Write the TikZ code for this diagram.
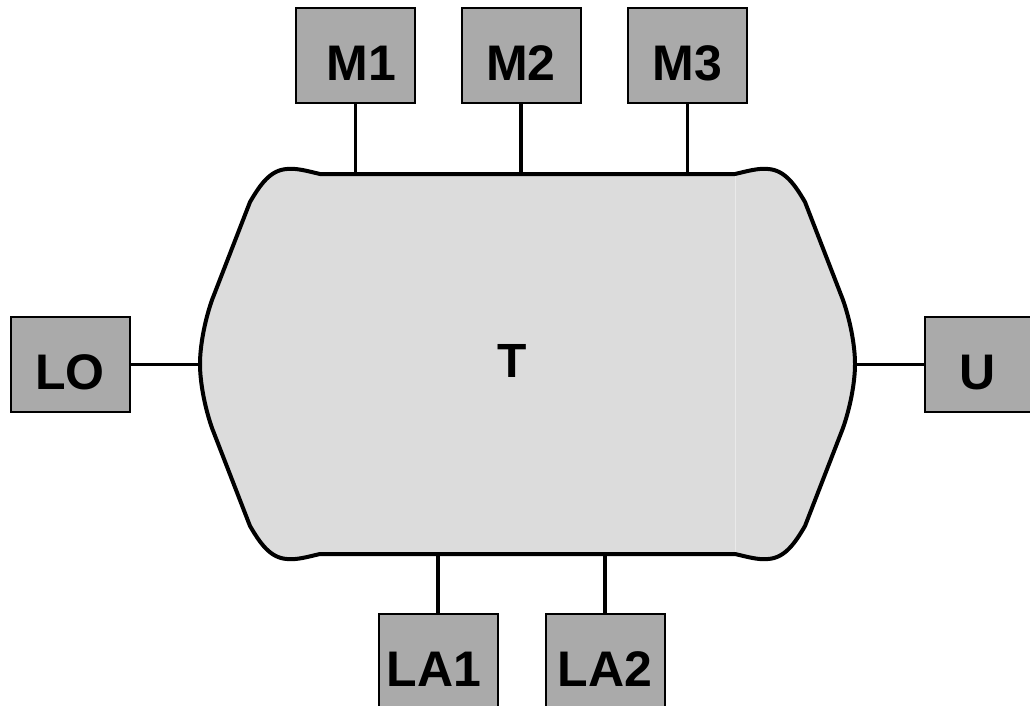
\documentclass[tikz,border=0pt]{standalone}
\usepackage{fontspec}
\setmainfont{Liberation Sans}
\definecolor{boxgray}{HTML}{AAAAAA}
\definecolor{bodygray}{HTML}{DCDCDC}
\definecolor{seamgray}{HTML}{EAEAEA}
\tikzset{
  unitbox/.style={draw=black, line width=2pt, fill=boxgray, inner sep=0pt,
    minimum width=119pt, minimum height=95pt,
    font=\fontsize{50}{60}\selectfont\bfseries, text height=50pt, text depth=0pt},
  bodylabel/.style={inner sep=0pt, font=\fontsize{48}{58}\selectfont\bfseries,
    text height=48pt, text depth=0pt},
  link/.style={draw=black, line width=3.5pt},
  outline/.style={draw=black, line width=4pt, fill=bodygray, line join=round}
}
\begin{document}
\begin{tikzpicture}[x=1pt,y=-1pt]
\useasboundingbox (0,0) rectangle (1030,706);
\clip (0,0) rectangle (1030,706);
% body
\path[outline] (320,174) -- (735,174)
  .. controls (748,171) and (758,168) .. (768,169)
  .. controls (785,170) and (795,185) .. (805,202)
  -- (843,300)
  .. controls (850,320) and (855,345) .. (855,364)
  .. controls (855,383) and (850,408) .. (843,428)
  -- (805,526)
  .. controls (795,543) and (785,558) .. (768,559)
  .. controls (758,560) and (748,557) .. (735,554)
  -- (320,554)
  .. controls (307,557) and (297,560) .. (287,559)
  .. controls (270,558) and (260,543) .. (250,526)
  -- (212,428)
  .. controls (205,408) and (200,383) .. (200,364)
  .. controls (200,345) and (205,320) .. (212,300)
  -- (250,202)
  .. controls (260,185) and (270,170) .. (287,169)
  .. controls (297,168) and (307,171) .. (320,174) -- cycle;
\draw[seamgray, line width=1pt] (735,176) -- (735,552);
\node[bodylabel] (T) at (512,353) {T};
% attachment points on the body
\coordinate (a1) at (355.5,174);
\coordinate (a2) at (521,174);
\coordinate (a3) at (687.5,174);
\coordinate (b1) at (438,554);
\coordinate (b2) at (605,554);
\coordinate (l) at (200,364.5);
\coordinate (r) at (855,364.5);
% boxes
\node[unitbox] (M1) at (355.5,55.5) {\hspace*{12pt}M1};
\node[unitbox] (M2) at (521,55.5) {M2};
\node[unitbox] (M3) at (687.5,55.5) {M3};
\node[unitbox] (LO) at (70,364.5) {LO};
\node[unitbox, minimum width=106pt] (U) at (978,364.5) {U};
\node[unitbox] (LA1) at (438,661.5) {LA1\hspace*{8pt}};
\node[unitbox] (LA2) at (605,661.5) {LA2};
% connectors
\draw[link] (M1) -- (a1);
\draw[link] (M2) -- (a2);
\draw[link] (M3) -- (a3);
\draw[link] (LA1) -- (b1);
\draw[link] (LA2) -- (b2);
\draw[link] (LO) -- (l);
\draw[link] (U) -- (r);
\end{tikzpicture}
\end{document}
